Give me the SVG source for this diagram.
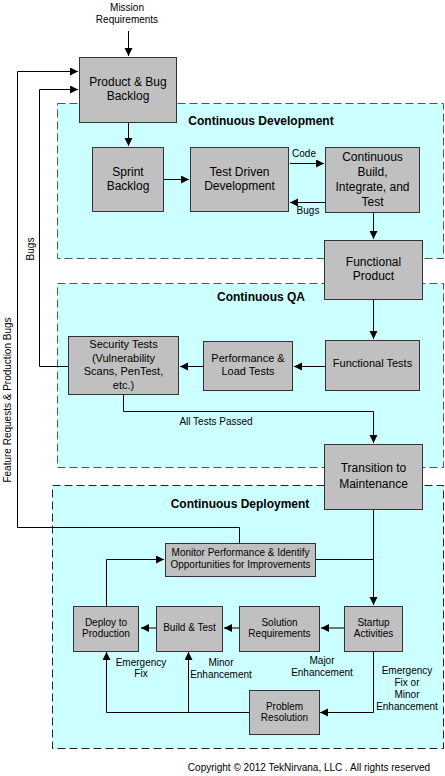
<svg xmlns="http://www.w3.org/2000/svg" width="445" height="776" viewBox="0 0 445 776">
<style>
text{font-family:"Liberation Sans",Arial,sans-serif;fill:#000}
.box{fill:#c0c0c0;stroke:#333;stroke-width:1}
.t12{font-size:12px;text-anchor:middle}
.t11{font-size:11px;text-anchor:middle}
.t10{font-size:10px;text-anchor:middle}
.title{font-size:12px;font-weight:bold;text-anchor:middle}
.region{fill:#ccffff;stroke:#555;stroke-width:1;stroke-dasharray:8,4}
.region2{fill:#ccffff;stroke:#222;stroke-width:1;stroke-dasharray:8,4}
.ln{fill:none;stroke:#000;stroke-width:1}
.ln2{fill:none;stroke:#4a5a5a;stroke-width:1.6}
</style>
<defs>
<marker id="ah" markerUnits="userSpaceOnUse" markerWidth="10" markerHeight="10" refX="8" refY="4" orient="auto">
<path d="M0,0 L8,4 L0,8 Z" fill="#000"/>
</marker>
</defs>
<rect width="445" height="776" fill="#fff"/>
<g id="regions">
<rect class="region" x="57.5" y="103.5" width="386" height="155"/>
<rect class="region" x="57.5" y="283.5" width="386" height="184"/>
<rect class="region2" x="52.5" y="485.5" width="391" height="263"/>
<text class="title" x="261" y="125">Continuous Development</text>
<text class="title" x="261" y="301">Continuous QA</text>
<text class="title" x="240" y="508">Continuous Deployment</text>
</g>
<g id="connectors">
<path class="ln" d="M128.5,31 V56" marker-end="url(#ah)"/>
<path class="ln" d="M239.5,543 V527.5 H17.5 V71.5 H78" marker-end="url(#ah)"/>
<path class="ln" d="M68,366.5 H39.5 V89.5 H78" marker-end="url(#ah)"/>
<path class="ln" d="M128.5,122 V146" marker-end="url(#ah)"/>
<path class="ln" d="M163,179.5 H189" marker-end="url(#ah)"/>
<path class="ln" d="M290,163.5 H324" marker-end="url(#ah)"/>
<path class="ln" d="M325,202.5 H290" marker-end="url(#ah)"/>
<path class="ln" d="M373.5,212 V239" marker-end="url(#ah)"/>
<path class="ln" d="M373.5,299 V339" marker-end="url(#ah)"/>
<path class="ln" d="M325,366.5 H294" marker-end="url(#ah)"/>
<path class="ln" d="M203,366.5 H180" marker-end="url(#ah)"/>
<path class="ln" d="M123.5,394 V411.5 H373.5 V443" marker-end="url(#ah)"/>
<path class="ln" d="M373.5,509 V605" marker-end="url(#ah)"/>
<path class="ln" d="M315,559.5 H373.5"/>
<path class="ln" d="M106.5,606 V559.5 H164" marker-end="url(#ah)"/>
<path class="ln2" d="M344,628 H321" marker-end="url(#ah)"/>
<path class="ln2" d="M239,628 H224" marker-end="url(#ah)"/>
<path class="ln2" d="M156,628 H141" marker-end="url(#ah)"/>
<path class="ln" d="M373.5,651 V712.5 H320" marker-end="url(#ah)"/>
<path class="ln" d="M249,712.5 H106.5 V652" marker-end="url(#ah)"/>
<path class="ln" d="M188.5,712.5 V652" marker-end="url(#ah)"/>
<text class="t10" x="127" y="10.5">Mission</text>
<text class="t10" x="127" y="22.5">Requirements</text>
<text class="t10" x="304" y="157">Code</text>
<text class="t10" x="308" y="214">Bugs</text>
<text class="t10" transform="translate(33.5,249) rotate(-90)">Bugs</text>
<text class="t10" transform="translate(10.5,400) rotate(-90)">Feature Requests &amp; Production Bugs</text>
<text class="t10" x="216" y="425">All Tests Passed</text>
<text class="t10" x="141" y="666">Emergency</text>
<text class="t10" x="141" y="677">Fix</text>
<text class="t10" x="221" y="666">Minor</text>
<text class="t10" x="221" y="678">Enhancement</text>
<text class="t10" x="322" y="664">Major</text>
<text class="t10" x="322" y="676">Enhancement</text>
<text class="t10" x="407" y="674">Emergency</text>
<text class="t10" x="407" y="686">Fix or</text>
<text class="t10" x="407" y="698">Minor</text>
<text class="t10" x="407" y="710">Enhancement</text>
</g>
<g id="product-backlog">
<rect class="box" x="79.5" y="57.5" width="97" height="65"/>
<text class="t12" x="128" y="86">Product &amp; Bug</text>
<text class="t12" x="128" y="100">Backlog</text>
</g>
<g id="sprint-backlog">
<rect class="box" x="92.5" y="147.5" width="71" height="64"/>
<text class="t12" x="128" y="176">Sprint</text>
<text class="t12" x="128" y="190">Backlog</text>
</g>
<g id="tdd">
<rect class="box" x="190.5" y="147.5" width="98" height="64"/>
<text class="t12" x="239.5" y="176">Test Driven</text>
<text class="t12" x="239.5" y="190">Development</text>
</g>
<g id="continuous-build">
<rect class="box" x="325.5" y="147.5" width="94" height="65"/>
<text class="t12" x="372.5" y="161">Continuous</text>
<text class="t12" x="372.5" y="176">Build,</text>
<text class="t12" x="372.5" y="191">Integrate, and</text>
<text class="t12" x="372.5" y="206">Test</text>
</g>
<g id="functional-product">
<rect class="box" x="324.5" y="240.5" width="98" height="59"/>
<text class="t12" x="373.5" y="266">Functional</text>
<text class="t12" x="373.5" y="280">Product</text>
</g>
<g id="functional-tests">
<rect class="box" x="325.5" y="340.5" width="94" height="50"/>
<text class="t11" x="372.5" y="367">Functional Tests</text>
</g>
<g id="perf-tests">
<rect class="box" x="203.5" y="341.5" width="89" height="49"/>
<text class="t11" x="248" y="362">Performance &amp;</text>
<text class="t11" x="248" y="375">Load Tests</text>
</g>
<g id="security-tests">
<rect class="box" x="68.5" y="336.5" width="110" height="58"/>
<text class="t11" x="123.5" y="348">Security Tests</text>
<text class="t11" x="123.5" y="362">(Vulnerability</text>
<text class="t11" x="123.5" y="375">Scans, PenTest,</text>
<text class="t11" x="123.5" y="389">etc.)</text>
</g>
<g id="transition">
<rect class="box" x="324.5" y="444.5" width="98" height="65"/>
<text class="t12" x="373.5" y="472">Transition to</text>
<text class="t12" x="373.5" y="488">Maintenance</text>
</g>
<g id="monitor">
<rect class="box" x="165.5" y="543.5" width="150" height="33"/>
<text class="t10" x="240.5" y="556">Monitor Performance &amp; Identify</text>
<text class="t10" x="240.5" y="568">Opportunities for Improvements</text>
</g>
<g id="deploy">
<rect class="box" x="73.5" y="606.5" width="65" height="45"/>
<text class="t10" x="106" y="626">Deploy to</text>
<text class="t10" x="106" y="637">Production</text>
</g>
<g id="build-test">
<rect class="box" x="156.5" y="606.5" width="66" height="45"/>
<text class="t10" x="189.5" y="631">Build &amp; Test</text>
</g>
<g id="solution-req">
<rect class="box" x="239.5" y="606.5" width="80" height="45"/>
<text class="t10" x="279.5" y="626">Solution</text>
<text class="t10" x="279.5" y="637">Requirements</text>
</g>
<g id="startup">
<rect class="box" x="344.5" y="606.5" width="58" height="45"/>
<text class="t10" x="373.5" y="626">Startup</text>
<text class="t10" x="373.5" y="637">Activities</text>
</g>
<g id="problem-resolution">
<rect class="box" x="249.5" y="690.5" width="70" height="44"/>
<text class="t10" x="284.5" y="710">Problem</text>
<text class="t10" x="284.5" y="721">Resolution</text>
</g>
<text class="t10" x="309" y="771">Copyright © 2012 TekNirvana, LLC . All rights reserved</text>
</svg>
